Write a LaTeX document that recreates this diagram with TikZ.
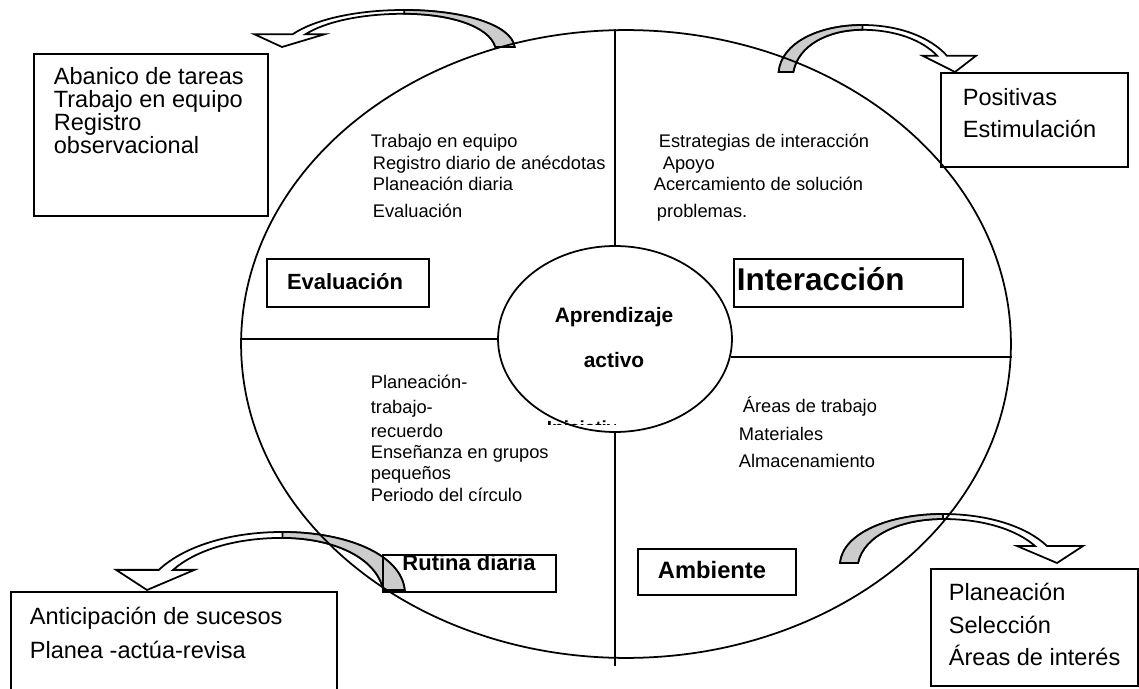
\documentclass[tikz,border=0pt]{standalone}
\usepackage{fontspec}
\setmainfont{Liberation Sans}
\usetikzlibrary{shapes.geometric}
\begin{document}
\begin{tikzpicture}[x=0.02cm,y=-0.02cm,line width=1pt,
    every node/.style={inner sep=0pt},
    box/.style={draw,anchor=north west},
    bigtxt/.style={anchor=base west,font=\fontsize{13.4}{16}\selectfont},
    smalltxt/.style={anchor=base west,font=\fontsize{10.4}{12}\selectfont},
    lab/.style={anchor=base,font=\bfseries\fontsize{#1}{15}\selectfont}]
    \clip (0,0) rectangle (1139,689);
    \foreach \px/\py/\sx/\sy in {505/47/-1.072/0.755,786/72/0.8125/0.959,394/590/-1.1875/1.184,849/563/1/1}{
        \begin{scope}[shift={(\px,\py)},xscale=\sx,yscale=-\sy]
            \draw (-9,0) .. controls (-6,30) and (40,49) .. (94,49)
                .. controls (140,49) and (178,36) .. (198,17) -- (234,17) -- (208,0)
                -- (168,17) -- (186,17) .. controls (168,33) and (135,44) .. (94,44)
                .. controls (52,44) and (15,28) .. (9,0) -- cycle;
            \draw[fill=gray!40] (-9,0) .. controls (-6,30) and (40,49) .. (94,49)
                -- (94,44) .. controls (52,44) and (15,28) .. (9,0) -- cycle;
        \end{scope}
    }
    \node[draw,ellipse,minimum width=15.4cm,minimum height=12.56cm] (big) at (626,344) {};
    \node[draw,ellipse,minimum width=4.68cm,minimum height=3.72cm] (core) at (615,339) {};
    \draw (core.north) -- (core.north |- big.north);
    \draw (core.south) -- ([yshift=-0.14cm]core.south |- big.south);
    \draw (core.west) -- (core.west -| big.west);
    \draw (core.-9) -- (core.-9 -| big.east);
    \node[box,minimum width=4.68cm,minimum height=3.24cm] (tlbox) at (33,53) {};
    \node[box,minimum width=3.74cm,minimum height=1.88cm] (trbox) at (940,72) {};
    \node[box,minimum width=6.52cm,minimum height=2.6cm] (blbox) at (10,591) {};
    \node[box,minimum width=4.14cm,minimum height=2.34cm] (brbox) at (930,568) {};
    \node[box,minimum width=3.24cm,minimum height=0.96cm] (evabox) at (266,258) {};
    \node[box,minimum width=4.58cm,minimum height=0.96cm] (intbox) at (733,258) {};
    \node[box,minimum width=3.46cm,minimum height=0.74cm] (rutbox) at (382,554) {};
    \node[box,minimum width=3.16cm,minimum height=0.92cm] (ambbox) at (637,548) {};
    \node[lab=12.5] (evalab) at (345,289) {Evaluación};
    \node[lab=17.9,anchor=base west] (intlab) at (736,291) {Interacción};
    \node[lab=11.9] (aprlab) at (614,322) {Aprendizaje};
    \node[lab=11.9] (actlab) at (614,367) {activo};
    \node[lab=12.5] (rutlab) at (469,570) {Rutina diaria};
    \node[lab=13.5] (amblab) at (712,578) {Ambiente};
    \foreach \t [count=\i] in {Abanico de tareas,Trabajo en equipo,Registro,observacional}
        \node[bigtxt] (tl\i) at (53,{62+23*\i}) {\t};
    \foreach \t [count=\i] in {Positivas,Estimulación}
        \node[bigtxt] (tr\i) at (962,{74+32*\i}) {\t};
    \foreach \t [count=\i] in {Anticipación de sucesos,Planea -actúa-revisa}
        \node[bigtxt] (bl\i) at (29,{590+34*\i}) {\t};
    \foreach \t [count=\i] in {Planeación,Selección,Áreas de interés}
        \node[bigtxt] (br\i) at (948,{568+32.5*\i}) {\t};
    \foreach \x/\y/\t [count=\i] in {370/148/Trabajo en equipo,372/170/Registro diario de anécdotas,
        372/191/Planeación diaria,372/217/Evaluación}
        \node[smalltxt] (ev\i) at (\x,\y) {\t};
    \foreach \x/\y/\t [count=\i] in {658/148/Estrategias de interacción,662/170/Apoyo,
        653/191/Acercamiento de solución,656/217/problemas.}
        \node[smalltxt] (in\i) at (\x,\y) {\t};
    \foreach \x/\y/\t [count=\i] in {370/388/Planeación-,370/413/trabajo-,370/437/recuerdo,
        370/458/Enseñanza en grupos,370/479/pequeños,370/501/Periodo del círculo}
        \node[smalltxt] (ru\i) at (\x,\y) {\t};
    \foreach \x/\y/\t [count=\i] in {742/412/Áreas de trabajo,738/440/Materiales,738/467/Almacenamiento}
        \node[smalltxt] (am\i) at (\x,\y) {\t};
    \begin{scope}
        \clip (540,417) rectangle (615,424);
        \node[anchor=base west,font=\bfseries\fontsize{10.8}{12}\selectfont] (frag) at (546,434) {Iniciativa};
    \end{scope}
\end{tikzpicture}
\end{document}
